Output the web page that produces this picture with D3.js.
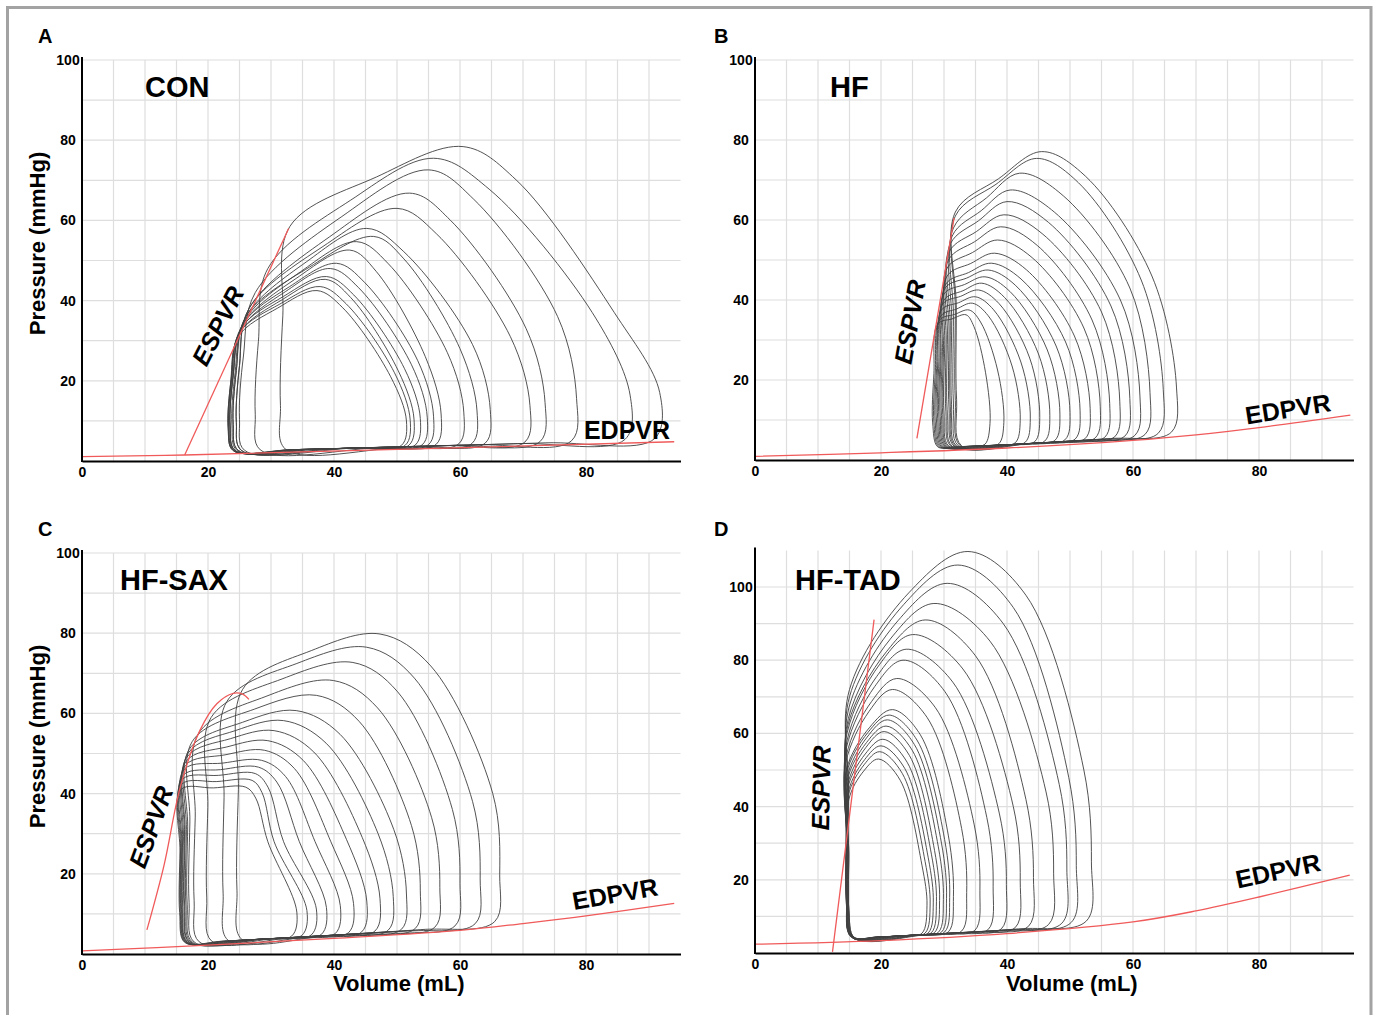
<!DOCTYPE html>
<html>
<head>
<meta charset="utf-8">
<script src="https://cdn.jsdelivr.net/npm/d3@7"></script>
<style>
  body { margin: 0; background: #fff; }
  svg text { font-family: "Liberation Sans", Arial, sans-serif; font-weight: bold; fill: #000; }
</style>
</head>
<body>
<svg id="chart" width="1374" height="1015"></svg>
<script>
// tick labels
const volumeTicks = [0, 20, 40, 60, 80];
const pressureTicks = [20, 40, 60, 80, 100];

// pressure-volume loops, one row per beat:
// [EDV, ESV, peak volume, peak pressure, end-systole volume, end-systole pressure, right knee volume, right knee pressure]
const conLoops = [
  [91.7, 31.5, 60.5, 78.4, 33.0, 58.5, 84.5, 37],
  [87.0, 27.5, 55.8, 75.5, 29.5, 48.0, 81.0, 37],
  [78.5, 25.0, 55.0, 72.6, 27.5, 42.0, 75.5, 36],
  [73.5, 24.5, 52.0, 66.8, 26.5, 38.0, 70.5, 33],
  [71.1, 24.5, 50.0, 63.0, 26.5, 38.0, 68.0, 31],
  [64.8, 24.0, 45.2, 58.0, 26.0, 36.0, 62.0, 29],
  [62.7, 24.0, 46.3, 56.0, 26.0, 36.0, 60.0, 28],
  [60.6, 23.8, 43.6, 54.7, 25.8, 35.0, 58.0, 27],
  [57.0, 23.5, 42.5, 52.6, 25.5, 34.0, 54.5, 26],
  [55.8, 23.5, 40.4, 49.3, 25.5, 34.0, 53.3, 25],
  [54.8, 23.5, 39.4, 48.0, 25.3, 33.0, 52.3, 24],
  [53.7, 23.3, 38.8, 46.0, 25.2, 33.0, 51.2, 23],
  [52.7, 23.3, 38.6, 45.3, 25.0, 32.0, 50.2, 22.5],
  [52.1, 23.2, 37.8, 43.5, 25.0, 32.0, 49.6, 22],
  [51.5, 23.2, 37.3, 42.5, 24.8, 31.0, 49.0, 21]
];
const hfLoops = [
  [66.9, 32.0, 45.5, 77.1, 31.8, 62.0, 63.0, 46],
  [64.8, 31.8, 44.7, 75.4, 31.8, 61.0, 61.3, 45],
  [62.7, 31.5, 42.0, 71.7, 31.5, 58.0, 59.5, 43],
  [61.1, 31.2, 40.5, 67.5, 31.3, 56.0, 58.0, 40],
  [59.5, 31.0, 40.0, 64.6, 31.0, 54.0, 56.5, 38.5],
  [57.9, 30.8, 39.5, 61.3, 30.8, 52.0, 55.0, 37],
  [56.3, 30.5, 39.0, 58.3, 30.7, 50.0, 53.5, 35],
  [54.8, 30.3, 38.5, 55.0, 30.5, 48.0, 52.2, 33],
  [53.2, 30.0, 38.0, 51.7, 30.5, 46.0, 50.7, 31],
  [51.6, 29.8, 37.5, 49.2, 30.3, 44.0, 49.3, 29.5],
  [50.0, 29.6, 37.0, 47.5, 30.2, 43.0, 47.8, 28.5],
  [48.4, 29.4, 36.5, 45.8, 30.0, 41.5, 46.4, 27.5],
  [46.8, 29.2, 36.0, 44.2, 30.0, 40.0, 45.0, 26.5],
  [45.2, 29.0, 35.5, 42.5, 29.8, 39.0, 43.6, 25.5],
  [43.7, 28.8, 35.0, 40.8, 29.6, 37.5, 42.2, 24.5],
  [42.1, 28.6, 34.5, 39.2, 29.5, 36.0, 40.8, 23.5],
  [39.5, 28.4, 34.0, 37.5, 29.3, 35.0, 38.5, 22.5],
  [37.3, 28.2, 33.5, 36.3, 29.0, 34.0, 36.6, 21.8]
];
const saxLoops = [
  [66.3, 24.6, 47.3, 79.8, 25.5, 66.0, 65.2, 40],
  [63.2, 22.4, 45.2, 76.5, 23.0, 63.0, 62.0, 38],
  [60.0, 19.8, 43.0, 72.7, 20.5, 59.0, 58.8, 36],
  [56.8, 17.8, 39.9, 68.2, 18.5, 55.0, 55.5, 34],
  [53.7, 17.0, 37.2, 64.5, 17.5, 53.0, 52.3, 32],
  [51.5, 16.7, 34.0, 60.7, 17.0, 51.0, 49.5, 31],
  [49.4, 16.5, 32.0, 58.2, 16.8, 50.0, 47.0, 30],
  [47.3, 16.3, 30.5, 55.7, 16.6, 49.0, 44.5, 29],
  [45.2, 16.2, 29.5, 53.2, 16.5, 48.0, 42.0, 28.5],
  [43.1, 16.0, 29.0, 50.8, 16.4, 47.0, 39.5, 28],
  [41.0, 15.9, 28.5, 48.3, 16.2, 46.0, 37.0, 28],
  [38.8, 15.8, 28.0, 46.6, 16.0, 44.5, 34.5, 28],
  [37.2, 15.7, 27.5, 45.0, 15.9, 43.5, 32.0, 28],
  [35.7, 15.6, 27.0, 43.3, 15.8, 42.3, 30.5, 28],
  [34.1, 15.5, 26.0, 41.6, 15.7, 41.0, 29.5, 28]
];
const tadLoops = [
  [53.4, 14.8, 33.8, 109.7, 15.0, 72, 52.2, 50],
  [51.0, 14.8, 32.2, 106.0, 15.0, 70, 49.8, 48],
  [49.5, 14.7, 30.5, 101.0, 14.9, 67, 48.3, 46],
  [47.4, 14.7, 28.4, 95.5, 14.8, 64, 46.2, 44],
  [44.2, 14.6, 27.0, 91.0, 14.7, 62, 43.0, 42],
  [42.1, 14.6, 25.0, 87.0, 14.6, 60, 41.0, 40],
  [39.9, 14.6, 24.0, 83.0, 14.6, 58, 38.8, 38],
  [37.8, 14.5, 23.5, 80.0, 14.5, 56, 36.8, 37],
  [35.7, 14.5, 22.5, 75.0, 14.5, 54, 34.8, 35],
  [33.6, 14.5, 21.8, 72.0, 14.4, 52, 32.8, 34],
  [31.5, 14.6, 21.8, 66.5, 14.5, 50, 30.7, 32],
  [30.9, 14.6, 21.3, 65.0, 14.5, 49, 30.1, 31],
  [30.4, 14.6, 21.0, 63.7, 14.6, 48, 29.6, 30],
  [29.9, 14.7, 20.8, 62.0, 14.6, 47, 29.1, 29],
  [29.3, 14.7, 20.5, 60.5, 14.7, 46, 28.5, 28],
  [28.8, 14.8, 20.3, 58.4, 14.7, 45, 28.0, 27],
  [28.3, 14.8, 20.0, 56.6, 14.8, 44, 27.5, 26],
  [27.8, 14.9, 19.8, 55.0, 14.8, 43, 27.0, 25],
  [27.3, 14.9, 19.6, 53.0, 14.9, 42, 26.5, 24]
];

// end-diastolic / end-systolic pressure-volume relations [volume, pressure]
const conEdpvr = [[0, 1.1], [16.3, 1.5], [94, 4.8]];
const conEspvr = [[16.3, 1.5], [32.8, 58]];
const hfEdpvr = [[0, 0.9], [20, 1.8], [40, 3.0], [60, 4.9], [70, 6.3], [80, 8.1], [94.5, 11.2]];
const hfEspvr = [[25.7, 5.4], [31.6, 60.5]];
const saxEdpvr = [[0, 0.8], [20, 2.2], [40, 3.9], [60, 5.9], [70, 7.6], [80, 9.5], [94, 12.6]];
const saxEspvr = [[10.3, 6], [13, 22], [15.6, 41.6], [18.7, 55.7], [21.4, 62.4], [24, 65], [25.5, 64.8], [26.5, 63.5]];
const tadEdpvr = [[0, 2.4], [20, 3.4], [40, 5.3], [60, 8.5], [70, 11.5], [80, 15.3], [94.4, 21.3]];
const tadEspvr = [[12.3, 0.3], [18.9, 91.1]];

const panels = [
  {
    letter: "A", title: "CON", loops: conLoops, edpvr: conEdpvr, espvr: conEspvr,
    left: 82, right: 680.5, top: 60, bottom: 461, yMax: 100,
    yLabel: true, xLabel: false, shoulder: 0.35, bulge: 0.12, base: 0.6,
    letterPos: [38, 43], titlePos: [145, 97],
    espvrLabel: [218, 326, -63], edpvrLabel: [627, 430, 0]
  },
  {
    letter: "B", title: "HF", loops: hfLoops, edpvr: hfEdpvr, espvr: hfEspvr,
    left: 755, right: 1353.5, top: 60, bottom: 460, yMax: 100,
    yLabel: false, xLabel: false, shoulder: 0.4, bulge: 0.05, base: 0.8,
    letterPos: [714, 43], titlePos: [830, 97],
    espvrLabel: [910, 322, -80], edpvrLabel: [1288, 409, -9]
  },
  {
    letter: "C", title: "HF-SAX", loops: saxLoops, edpvr: saxEdpvr, espvr: saxEspvr,
    left: 82, right: 680.5, top: 553, bottom: 954, yMax: 100,
    yLabel: true, xLabel: true, shoulder: 0.45, bulge: 0.2, base: 0.8,
    letterPos: [38, 536], titlePos: [120, 590],
    espvrLabel: [151, 827, -70], edpvrLabel: [615, 894, -10]
  },
  {
    letter: "D", title: "HF-TAD", loops: tadLoops, edpvr: tadEdpvr, espvr: tadEspvr,
    left: 755, right: 1353.5, top: 550.4, bottom: 953, yMax: 110,
    yLabel: false, xLabel: true, shoulder: 0.5, bulge: 0.2, base: 1.0,
    letterPos: [714, 536], titlePos: [795, 590],
    espvrLabel: [821, 788, -89], edpvrLabel: [1278, 871, -12]
  }
];

const svg = d3.select("#chart");

// outer frame
svg.append("rect")
  .attr("x", 7.5)
  .attr("y", 7.5)
  .attr("width", 1363.5)
  .attr("height", 1030)
  .attr("fill", "none")
  .attr("stroke", "#a3a3a3")
  .attr("stroke-width", 3);

// build the control points of one loop, drawn counter-clockwise
function loopPoints(row, floor, p) {
  const [R, L, V, P, J, E, kV, kP] = row;
  const bL = floor(L);
  const bR = floor(R);
  const m1 = L + 0.35 * (R - L);
  const m2 = L + 0.7 * (R - L);
  return [
    [L + 0.8, bL + 0.2],
    [m1, floor(m1)],
    [m2, floor(m2)],
    [R - 0.8, bR + 0.3],
    [R, bR + 0.15 * P],
    [kV, kP],
    [V + p.shoulder * (kV - V), kP + 0.8 * (P - kP)],
    [V, P],
    [(V + J) / 2, (P + E) / 2 + p.bulge * (P - E)],
    [J, E],
    [L + 0.25 * (J - L), bL + 0.6 * (E - bL)],
    [L, bL + 0.2 * (E - bL)]
  ];
}

panels.forEach(p => {
  const g = svg.append("g");

  const x = d3.scaleLinear().domain([0, 95]).range([p.left, p.right]);
  const y = d3.scaleLinear().domain([0, p.yMax]).range([p.bottom, p.top]);

  // grid
  g.append("g")
    .selectAll("line")
    .data(d3.range(5, 91, 5))
    .join("line")
    .attr("x1", d => x(d))
    .attr("x2", d => x(d))
    .attr("y1", y(0))
    .attr("y2", y(p.yMax))
    .attr("stroke", "#dedede")
    .attr("stroke-width", 1.2);

  g.append("g")
    .selectAll("line")
    .data(d3.range(10, 101, 10))
    .join("line")
    .attr("x1", x(0))
    .attr("x2", x(95))
    .attr("y1", d => y(d))
    .attr("y2", d => y(d))
    .attr("stroke", "#dedede")
    .attr("stroke-width", 1.2);

  // loops
  const edpvrScale = d3.scaleLinear()
    .domain(p.edpvr.map(d => d[0]))
    .range(p.edpvr.map(d => d[1]));
  const floor = v => edpvrScale(v) + p.base;

  const loopLine = d3.line()
    .x(d => x(d[0]))
    .y(d => y(d[1]))
    .curve(d3.curveCatmullRomClosed.alpha(0.5));

  g.append("g")
    .selectAll("path")
    .data(p.loops)
    .join("path")
    .attr("d", d => loopLine(loopPoints(d, floor, p)))
    .attr("fill", "none")
    .attr("stroke", "#404040")
    .attr("stroke-opacity", 0.9)
    .attr("stroke-width", 1);

  // relations
  const relLine = d3.line()
    .x(d => x(d[0]))
    .y(d => y(d[1]))
    .curve(d3.curveCatmullRom.alpha(0.5));

  g.append("g")
    .selectAll("path")
    .data([p.edpvr, p.espvr])
    .join("path")
    .attr("d", relLine)
    .attr("fill", "none")
    .attr("stroke", "#f05a5a")
    .attr("stroke-width", 1.3);

  // axes
  const xAxis = g.append("g")
    .attr("transform", `translate(0,${p.bottom})`)
    .call(d3.axisBottom(x).tickValues(volumeTicks).tickSize(0).tickSizeOuter(0).tickPadding(6));
  const yAxis = g.append("g")
    .attr("transform", `translate(${p.left},0)`)
    .call(d3.axisLeft(y).tickValues(pressureTicks).tickSize(0).tickSizeOuter(0));

  [xAxis, yAxis].forEach(a => {
    a.select(".domain").attr("stroke", "#000").attr("stroke-width", 2);
    a.selectAll("text")
      .style("font-size", "14px")
      .style("font-weight", "bold")
      .style("font-family", "'Liberation Sans', Arial, sans-serif");
  });
  yAxis.selectAll("text").attr("text-anchor", "middle").attr("x", -14);
  yAxis.select(".domain").attr("d", `M0,${y(p.yMax) - 3}V${p.bottom + 1}`);

  // labels
  g.append("text")
    .attr("x", p.letterPos[0])
    .attr("y", p.letterPos[1])
    .style("font-size", "20px")
    .text(p.letter);

  g.append("text")
    .attr("x", p.titlePos[0])
    .attr("y", p.titlePos[1])
    .style("font-size", "29px")
    .text(p.title);

  g.append("text")
    .attr("transform", `translate(${p.espvrLabel[0]},${p.espvrLabel[1]}) rotate(${p.espvrLabel[2]})`)
    .attr("text-anchor", "middle")
    .attr("dy", "0.35em")
    .style("font-size", "25px")
    .style("font-style", "italic")
    .text("ESPVR");

  g.append("text")
    .attr("transform", `translate(${p.edpvrLabel[0]},${p.edpvrLabel[1]}) rotate(${p.edpvrLabel[2]})`)
    .attr("text-anchor", "middle")
    .attr("dy", "0.35em")
    .style("font-size", "25px")
    .text("EDPVR");

  if (p.yLabel) {
    g.append("text")
      .attr("transform", `translate(37,${(p.top + p.bottom) / 2 - 17}) rotate(-90)`)
      .attr("text-anchor", "middle")
      .attr("dy", "0.35em")
      .style("font-size", "22px")
      .text("Pressure (mmHg)");
  }
  if (p.xLabel) {
    g.append("text")
      .attr("x", x(50.3))
      .attr("y", 991)
      .attr("text-anchor", "middle")
      .style("font-size", "22px")
      .text("Volume (mL)");
  }
});
</script>
</body>
</html>
